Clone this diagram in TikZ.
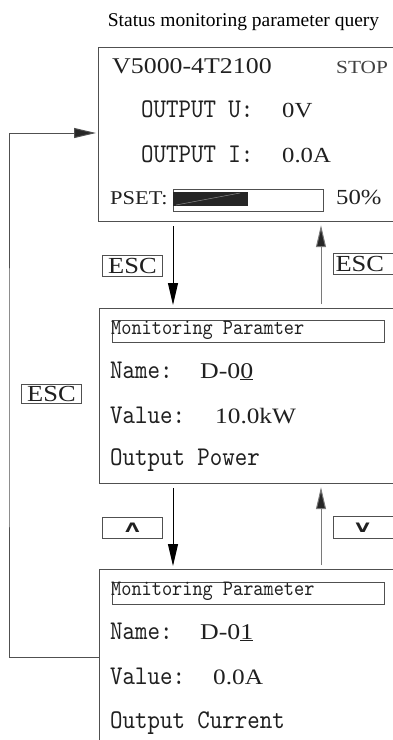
\documentclass[tikz,border=0pt]{standalone}
\usepackage{fontspec}
\setmainfont{Liberation Serif}
\newfontfamily\lcdserif[FakeStretch=1.15]{Liberation Serif}
\newfontfamily\lcdmono[Extension=.otf,FakeStretch=0.88]{lmmono10-regular}
\newfontfamily\keyfont{DejaVu Sans}
\usetikzlibrary{arrows.meta,positioning}
\definecolor{framegray}{HTML}{505050}
\definecolor{upgray}{HTML}{7A7A7A}
\definecolor{textdark}{HTML}{202020}

\tikzset{
  screen/.style={draw=framegray, line width=1.2pt, anchor=north west, inner sep=0pt},
  headbar/.style={draw=framegray, line width=1pt, anchor=north west, inner sep=0pt,
    minimum width=272pt, minimum height=22pt},
  keybox/.style={draw=framegray, line width=1pt, anchor=north west, inner sep=0pt,
    minimum width=60pt, minimum height=21pt, text=textdark,
    font=\lcdserif\fontsize{23}{23}\selectfont},
  keyboxr/.style={keybox, text width=76pt, inner xsep=2pt, align=left},
  lcdtext/.style={anchor=base west, inner sep=0pt, text=textdark},
  monotext/.style={lcdtext, font=\lcdmono\fontsize{27}{27}\selectfont},
  monosmall/.style={lcdtext, font=\lcdmono\fontsize{22}{22}\selectfont},
  valtext/.style={lcdtext, font=\lcdserif\fontsize{21.5}{21.5}\selectfont},
  downarrow/.style={line width=1pt, black, -{Triangle[length=22pt,width=10pt]},
    shorten <=4pt, shorten >=3pt},
  uparrow/.style={line width=1pt, upgray, -{Triangle[length=22pt,width=10pt,fill=black!85]},
    shorten <=4pt, shorten >=3pt},
  backarrow/.style={line width=1pt, framegray, -{Triangle[length=22pt,width=10pt,fill=black!85]},
    shorten >=2pt}
}

\begin{document}
\begin{tikzpicture}[x=1pt, y=-1pt]
  \useasboundingbox (0,0) rectangle (392,740);

  \node[anchor=base, inner sep=0pt, font=\fontsize{19.5}{19.5}\selectfont]
    (title) at (243.5,26) {Status monitoring parameter query};

  \node[screen, minimum width=330pt, minimum height=174pt] (mainscr) at (98,47) {};
  \node[valtext, font=\lcdserif\fontsize{22.5}{22.5}\selectfont] (model) at (112,73) {V5000-4T2100};
  \node[valtext, font=\lcdserif\fontsize{18.5}{18.5}\selectfont, text=black!75] (state) at (336,73) {STOP};
  \node[monotext] (outu) at (141,117) {OUTPUT U:};
  \node[valtext] (outuval) at (282,117) {0V};
  \node[monotext] (outi) at (141,162) {OUTPUT I:};
  \node[valtext] (outival) at (282,162) {0.0A};
  \node[valtext, font=\lcdserif\fontsize{19.5}{19.5}\selectfont] (pset) at (110,204) {PSET:};
  \node[draw=framegray, line width=0.9pt, anchor=north west, inner sep=0pt,
    minimum width=150pt, minimum height=22pt] (psetbar) at (173,188.5) {};
  \node[fill=black!85, anchor=north west, inner sep=0pt,
    minimum width=75pt, minimum height=14pt] (psetfill) at (173,192) {};
  \draw[black!45, line width=0.5pt] (176,205) -- (240,193);
  \node[valtext] (psetval) at (336,204) {50\%};

  \node[screen, minimum width=330pt, minimum height=175pt] (parscr1) at (99,308) {};
  \node[headbar] (head1) at (112,320) {};
  \node[monosmall] (head1txt) at (111,334) {Monitoring Paramter};
  \node[monotext] (name1) at (110,378) {Name:};
  \node[valtext, font=\lcdserif\fontsize{22.5}{22.5}\selectfont] (name1val) at (200,378) {D-0\underline{0}};
  \node[monotext] (value1) at (110,423) {Value:};
  \node[valtext, font=\lcdserif\fontsize{22}{22}\selectfont] (value1val) at (215,423) {10.0kW};
  \node[monotext] (desc1) at (110,465) {Output Power};

  \node[screen, minimum width=330pt, minimum height=200pt] (parscr2) at (99,569) {};
  \node[headbar] (head2) at (112,582) {};
  \node[monosmall] (head2txt) at (111,595) {Monitoring Parameter};
  \node[monotext] (name2) at (110,639) {Name:};
  \node[valtext, font=\lcdserif\fontsize{22.5}{22.5}\selectfont] (name2val) at (200,639) {D-0\underline{1}};
  \node[monotext] (value2) at (110,684) {Value:};
  \node[valtext, font=\lcdserif\fontsize{22}{22}\selectfont] (value2val) at (213,684) {0.0A};
  \node[monotext] (desc2) at (110,728) {Output Current};

  \node[keybox] (escdown) at (102,255) {ESC};
  \node[keyboxr] (escup) at (333,253) {ESC};
  \node[keybox, minimum height=18.5pt] (escback) at (21,384) {ESC};
  \node[keybox] (keyup) at (102,517) {\scalebox{1.4}[1]{\keyfont\bfseries\fontsize{13}{13}\selectfont Λ}};
  \node[keyboxr, minimum height=22pt] (keydown) at (333,516) {\hspace*{20pt}\scalebox{1.4}[1]{\keyfont\bfseries\fontsize{13}{13}\selectfont V}};

  \coordinate (dnx) at (173,0);
  \coordinate (upx) at (321,0);
  \draw[downarrow] (dnx |- mainscr.south) -- (dnx |- parscr1.north);
  \draw[uparrow] (upx |- parscr1.north) -- (upx |- mainscr.south);
  \draw[downarrow] (dnx |- parscr1.south) -- (dnx |- parscr2.north);
  \draw[uparrow] (upx |- parscr2.north) -- (upx |- parscr1.south);
  \draw[backarrow] (parscr2.west |- 0,657) -| (9,400) |- (mainscr.west |- 0,133);
\end{tikzpicture}
\end{document}
